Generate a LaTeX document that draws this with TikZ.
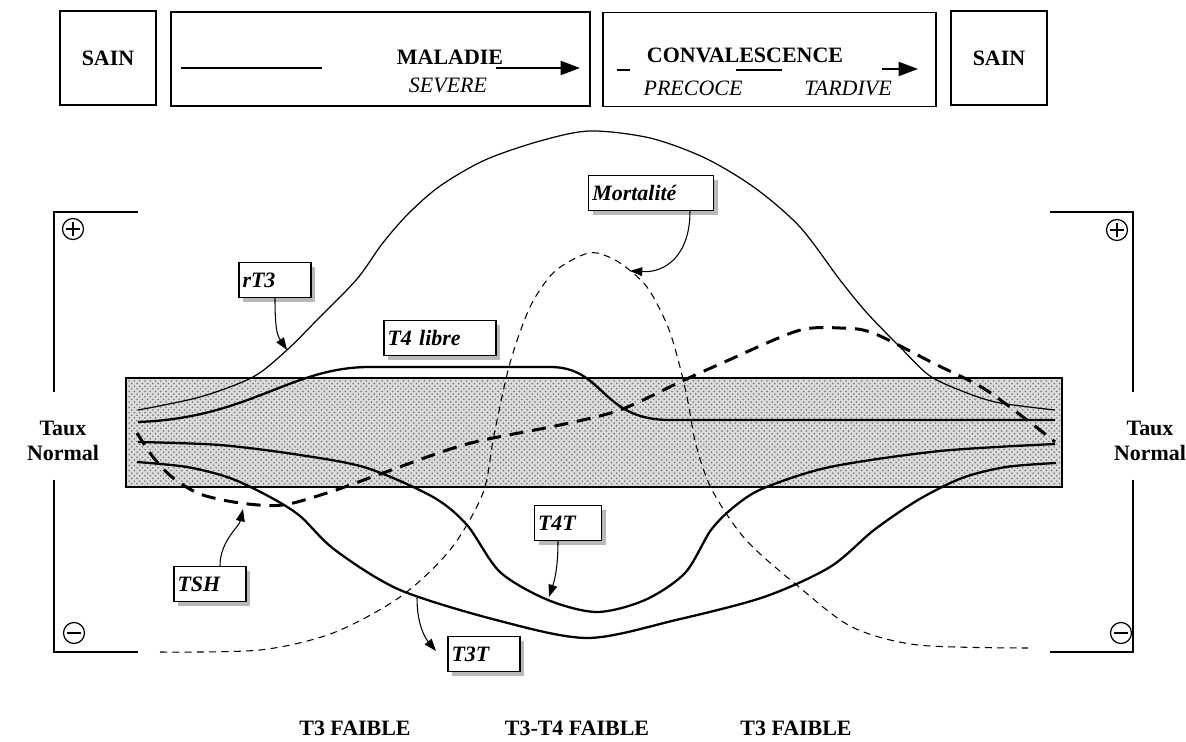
\documentclass[tikz,border=0pt]{standalone}
\usepackage{fontspec}
\setmainfont{Liberation Serif}
\usepackage{tikz}
\usetikzlibrary{shapes,arrows,arrows.meta,positioning,calc,shadows,patterns}

\begin{document}
\begin{tikzpicture}[
    x = 0.02cm, y = -0.02cm,
    every node/.style = {font=\fontsize{12.5}{14}\selectfont},
    boite/.style = {draw, line width=1pt, minimum height=1.88cm, inner sep=0pt},
    titre/.style = {font=\fontsize{12.5}{14}\selectfont\bfseries},
    sous/.style = {font=\fontsize{12.5}{14}\selectfont\itshape},
    etiquette/.style = {draw, fill=white, line width=0.6pt, align=left, inner sep=2pt,
      minimum height=0.7cm, font=\fontsize{12.5}{14}\selectfont\bfseries\itshape,
      drop shadow = {shadow xshift=2.5pt, shadow yshift=-2.5pt, fill=black!55}},
    fleche/.style = {line width=0.6pt, -{Triangle[length=7pt, width=5pt]}},
    hormone/.style = {line width=1.3pt},
    tirets/.style = {line width=1.7pt, dash pattern=on 8pt off 5pt},
    signe/.style = {draw, circle, line width=0.7pt, minimum size=0.42cm, inner sep=0pt},
    plus/.style = {signe, path picture={
      \draw ([xshift=2pt]path picture bounding box.west) -- ([xshift=-2pt]path picture bounding box.east)
            ([yshift=-2pt]path picture bounding box.north) -- ([yshift=2pt]path picture bounding box.south);}},
    moins/.style = {signe, path picture={
      \draw ([xshift=2pt]path picture bounding box.west) -- ([xshift=-2pt]path picture bounding box.east);}}
  ]
  \useasboundingbox (0,0) rectangle (1186,742);

  % bandeau des phases
  \node[boite, titre, minimum width=1.92cm] (sain1) at (108,58) {SAIN};
  \node[boite, minimum width=8.38cm] (maladie) at (380.5,59) {};
  \node[titre] (maladie-t) at (450,57) {MALADIE};
  \node[sous] (severe) at (448,85) {SEVERE};
  \draw[line width=1pt] (181,68) -- (322,68);
  \draw[line width=1pt, -{Triangle[length=11pt, width=8pt]}] (496,68) -- (580,68);

  \node[boite, minimum width=6.66cm] (conva) at (769.5,59.5) {};
  \node[titre] (conva-t) at (745,55) {CONVALESCENCE};
  \node[sous] (precoce) at (693,88) {PRECOCE};
  \node[sous] (tardive) at (848,88) {TARDIVE};
  \draw[line width=1pt] (617,70) -- (630,70);
  \draw[line width=1pt] (736,70) -- (782,70);
  \draw[line width=1pt, -{Triangle[length=11pt, width=8pt]}] (882,69) -- (918,69);

  \node[boite, titre, minimum width=1.92cm] (sain2) at (999,58) {SAIN};

  % zone normale
  \fill[gray!28] (126,378) rectangle (1062,487);
  \draw[line width=0.8pt, pattern=crosshatch dots, pattern color=black!55] (126,378) rectangle (1062,487);

  % axes
  \draw[line width=0.8pt] (138,212) -- (54,212) -- (54,392);
  \draw[line width=0.8pt] (54,480) -- (54,652) -- (138,652);
  \draw[line width=0.8pt] (1050,212) -- (1133,212) -- (1133,392);
  \draw[line width=0.8pt] (1133,480) -- (1133,652) -- (1050,652);
  \node[plus] (plusG) at (73,229) {};
  \node[plus] (plusD) at (1117,230) {};
  \node[moins] (moinsG) at (74,633) {};
  \node[moins] (moinsD) at (1121,633) {};
  \node[titre, align=center] (normG) at (63,441) {Taux\\Normal};
  \node[titre, align=center] (normD) at (1150,441) {Taux\\Normal};

  % courbes
  \draw[line width=0.7pt] plot[smooth] coordinates {(138,410) (200,397) (253,377) (287,350)
    (317,320) (357,279) (382,244) (408,214) (440,186) (485,160) (540,141) (590,131) (650,138)
    (705,158) (755,188) (800,227) (840,280) (867,313) (900,347) (930,376) (967,393)
    (1000,403) (1055,410)};
  \draw[hormone] (138,422) .. controls (250,418) and (290,367) .. (370,367) -- (550,367)
    .. controls (605,367) and (600,420) .. (670,420) -- (1055,420);
  \draw[hormone] plot[smooth] coordinates {(138,442) (220,445) (300,455) (367,468) (433,497)
    (467,525) (500,572) (548,600) (597,612) (645,600) (685,573) (711,530) (735,506)
    (764,488) (830,467) (940,451) (1055,444)};
  \draw[hormone] plot[smooth] coordinates {(137,462) (187,467) (230,478) (270,497) (300,516)
    (335,550) (400,590) (500,621) (588,638) (676,620) (764,597) (830,567) (874,530)
    (918,500) (962,478) (1006,467) (1056,463)};
  \draw[line width=0.6pt, dash pattern=on 4pt off 3pt] plot[smooth] coordinates {(160,652)
    (260,650) (333,633) (400,597) (450,550) (483,493) (494,435) (510,363) (530,307)
    (553,273) (580,256) (597,253) (620,263) (647,287) (668,327) (680,367) (688,402)
    (696,445) (712,490) (746,540) (799,587) (852,627) (918,645) (1028,648)};
  \draw[tirets] plot[smooth] coordinates {(137,433) (153,457) (172,477) (200,494) (240,503)
    (283,505) (333,491) (383,473) (467,444) (560,425) (620,410) (680,382) (720,364)
    (797,331) (840,328) (873,333) (933,363) (983,388) (1027,420) (1055,442)};

  % etiquettes
  \node[etiquette, text width=1.3cm] (rt3) at (275,280) {rT3};
  \node[etiquette, text width=2.1cm] (t4l) at (440,338) {T4 libre};
  \node[etiquette, text width=2.35cm] (mort) at (651,193) {Mortalité};
  \node[etiquette, text width=1.2cm] (t4t) at (568,523) {T4T};
  \node[etiquette, text width=1.3cm] (tsh) at (210,584) {TSH};
  \node[etiquette, text width=1.3cm] (t3t) at (484,654) {T3T};

  \coordinate (pRT) at (287,350);
  \coordinate (pMort) at (630,271);
  \coordinate (pT4T) at (549,597);
  \coordinate (pTSH) at (243,509);
  \coordinate (pT3) at (417,598);
  \coordinate (qT3) at (436,651);

  \draw[fleche] (rt3.south) .. controls +(0,30) and +(-10,-15) .. (pRT);
  \draw[fleche] ([xshift=0.78cm]mort.south) .. controls +(0,45) and +(35,2) .. (pMort);
  \draw[fleche] ([xshift=-0.2cm]t4t.south) .. controls +(0,25) and +(6,-18) .. (pT4T);
  \draw[fleche] ([xshift=0.2cm]tsh.north) .. controls +(0,-25) and +(-4,18) .. (pTSH);
  \draw[fleche] (pT3) .. controls +(0,28) and +(-10,-12) .. (qT3);

  % phases hormonales
  \node[titre] (faible1) at (355,728) {T3 FAIBLE};
  \node[titre] (faible2) at (577,728) {T3-T4 FAIBLE};
  \node[titre] (faible3) at (796,728) {T3 FAIBLE};
\end{tikzpicture}
\end{document}
